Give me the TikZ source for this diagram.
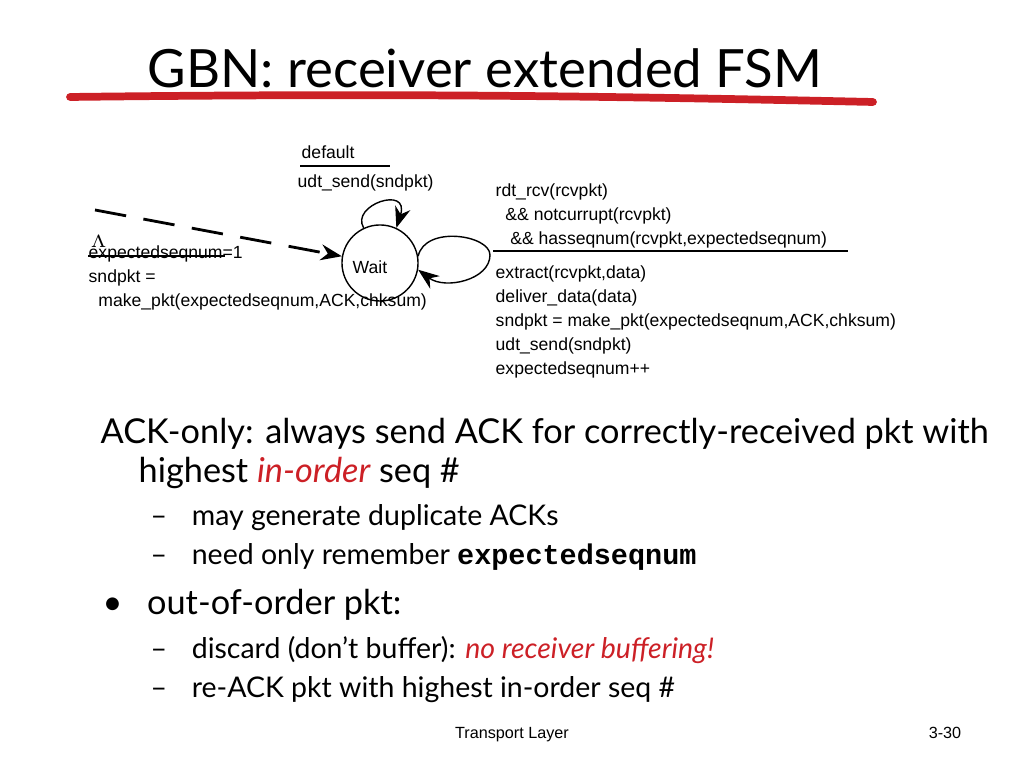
\documentclass[tikz,border=0pt]{standalone}
\usepackage{fontspec}
\setmainfont{Lato}
\setsansfont{Liberation Sans}
\setmonofont{Liberation Mono}
\usetikzlibrary{calc}
\usetikzlibrary{arrows.meta}
\definecolor{slidered}{RGB}{204,32,38}
\begin{document}
\begin{tikzpicture} [x=0.01cm, y=-0.01cm]
\tikzset{fsm/.style={anchor=west, inner sep=0pt, align=left, font=\sffamily\fontsize{5}{6.8}\selectfont},
 body/.style={anchor=west, inner sep=0pt, font=\fontsize{9.75}{11}\selectfont},
 sub/.style={anchor=west, inner sep=0pt, font=\fontsize{8.1}{9}\selectfont}}
\useasboundingbox (0,0) rectangle (1024,768);

\node[anchor=center, inner sep=0pt, font=\fontsize{15}{18}\selectfont] (title) at (485,68) {GBN: receiver extended FSM};
\draw[slidered, line width=2.2pt, line cap=round] (70,97) .. controls (400,93) and (600,96) .. (873,102);

\node[draw, circle, minimum size=0.76cm, inner sep=0pt] (wait) at (380,263) {};
\node[fsm] (waitlbl) at (352,267) {Wait};

\draw[-{Stealth[length=6pt]}] (wait.115) .. controls (350,205) and (410,185) .. (wait.65);
\draw[-{Stealth[length=6pt]}] (wait.10) .. controls (425,225) and (490,235) .. (490,255) .. controls (490,280) and (445,290) .. (wait.-10);
\coordinate (init) at (95,210);
\draw[thick, dashed, dash pattern=on 9pt off 5pt, -{Stealth[length=6pt]}] (init) -- (wait.170);

\node[fsm] (dflt) at (301,152) {default};
\draw[thick] (300,166) -- (390,166);
\node[fsm] (dsend) at (297,183) {udt\_send(sndpkt)};

\node[font=\fontsize{5}{6}\selectfont, anchor=west, inner sep=0pt] (lam) at (90,242) {$\Lambda$};
\draw[thick] (88,256) -- (225,256);
\node[fsm] (init1) at (88,278) {expectedseqnum=1\\sndpkt =\\\ \ make\_pkt(expectedseqnum,ACK,chksum)};
\node[fsm, anchor=north west] (ev) at (495,183) {rdt\_rcv(rcvpkt)\\\ \ \&\& notcurrupt(rcvpkt)\\\ \ \ \&\& hasseqnum(rcvpkt,expectedseqnum)};
\draw[thick] (493,251) -- (848,251);
\node[fsm, anchor=north west] (act) at (495,265) {extract(rcvpkt,data)\\deliver\_data(data)\\sndpkt = make\_pkt(expectedseqnum,ACK,chksum)\\udt\_send(sndpkt)\\expectedseqnum++};

\node[body] (b1) at (100,434) {ACK-only: always send ACK for correctly-received pkt with};
\node[body] (b1b) at (138,473) {highest \textcolor{slidered}{\itshape in-order} seq \#};
\node[sub] (s1) at (150,518) {–\hspace{7pt}may generate duplicate ACKs};
\node[sub] (s2) at (150,557) {–\hspace{7pt}need only remember {\ttfamily\bfseries expectedseqnum}};
\node[body] (b2) at (102,605) {•\hspace{7pt}out-of-order pkt:};
\node[sub] (s3) at (150,650) {–\hspace{7pt}discard (don’t buffer): \textcolor{slidered}{\itshape no receiver buffering!}};
\node[sub] (s4) at (150,690) {–\hspace{7pt}re-ACK pkt with highest in-order seq \#};

\node[font=\sffamily\fontsize{4.6}{5}\selectfont, inner sep=0pt] (foot) at (512,735) {Transport Layer};
\node[font=\sffamily\fontsize{4.6}{5}\selectfont, inner sep=0pt] (pg) at (945,733) {3-30};
\end{tikzpicture}
\end{document}
